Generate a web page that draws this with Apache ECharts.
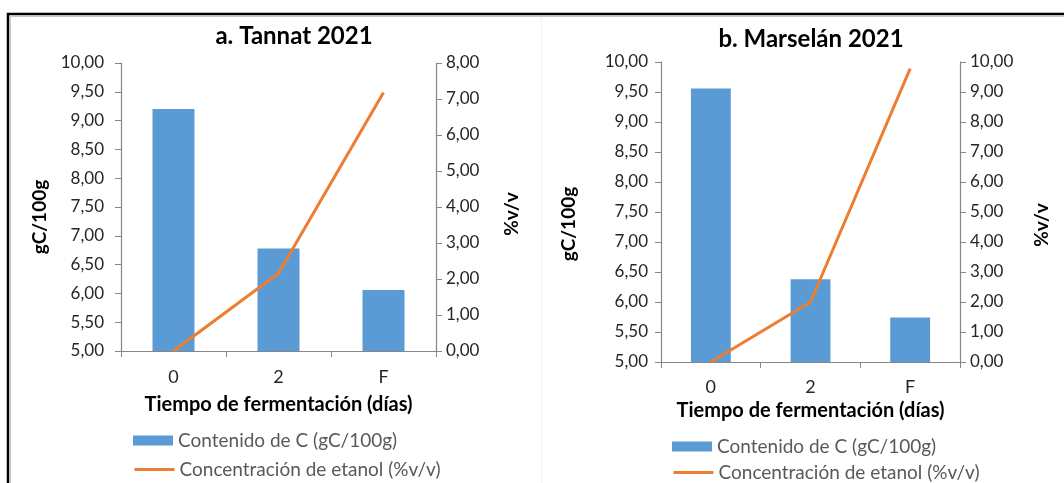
<!DOCTYPE html>
<html>
<head>
<meta charset="utf-8">
<script src="https://cdn.jsdelivr.net/npm/echarts@6/dist/echarts.min.js"></script>
<style>
  html, body { margin: 0; padding: 0; background: #fff; }
  #chart { width: 1064px; height: 483px; }
</style>
</head>
<body>
<div id="chart"></div>
<script>
// Fermentation time categories (days)
const categories = ['0', '2', 'F'];

// a. Tannat 2021
const tannatCarbon = [9.20, 6.78, 6.06];   // gC/100g
const tannatEthanol = [0.00, 2.16, 7.18];  // %v/v

// b. Marselán 2021
const marselanCarbon = [9.56, 6.38, 5.74];   // gC/100g
const marselanEthanol = [0.00, 2.00, 9.78];  // %v/v

const titles = ['a. Tannat 2021', 'b. Marselán 2021'];
const xAxisName = 'Tiempo de fermentación (días)';
const leftAxisName = 'gC/100g';
const rightAxisName = '%v/v';
const barName = 'Contenido de C (gC/100g)';
const lineName = 'Concentración de etanol (%v/v)';

const FONT = 'Lato, "Open Sans", sans-serif';
const BLUE = '#5B9BD5';
const ORANGE = '#ED7D31';
const AXIS = '#868686';
const LABEL = '#262626';

const fmt = v => v.toFixed(2).replace('.', ',');

// Pixel layout of the two panels
const panels = [
  { grid: { left: 121, top: 63, width: 315, height: 288 },
    titleX: 289, titleY: 19, rightMax: 8,
    leftLabelMargin: 17, rightLabelMargin: 10,
    leftNameGap: 72, rightNameGap: 66, leftNameShift: 20, rightNameShift: 14,
    xLabelMargin: 17, xNameGap: 44,
    legendLeft: 133, legendTop1: 431, legendTop2: 460 },
  { grid: { left: 661, top: 62, width: 299, height: 300 },
    titleX: 806, titleY: 22, rightMax: 10,
    leftLabelMargin: 13, rightLabelMargin: 10,
    leftNameGap: 83, rightNameGap: 72, leftNameShift: 24, rightNameShift: 26,
    xLabelMargin: 16, xNameGap: 38,
    legendLeft: 672, legendTop1: 437, legendTop2: 463 }
];
const carbon = [tannatCarbon, marselanCarbon];
const ethanol = [tannatEthanol, marselanEthanol];

const option = {
  backgroundColor: '#fff',
  animation: false,
  title: [], grid: [], xAxis: [], yAxis: [], series: [], legend: [],
  graphic: [
    // outer frame (top and left edges)
    { type: 'polyline', silent: true, z: 100,
      shape: { points: [[8, 483], [8, 14], [1064, 14]] },
      style: { stroke: '#000', lineWidth: 2.5, fill: null } },
    { type: 'polyline', silent: true, z: 99,
      shape: { points: [[10.5, 483], [10.5, 16.5], [1064, 16.5]] },
      style: { stroke: '#c8c8c8', lineWidth: 1, fill: null } },
    { type: 'line', silent: true,
      shape: { x1: 541.5, y1: 16, x2: 541.5, y2: 483 },
      style: { stroke: '#f2f2f2', lineWidth: 1 } }
  ]
};

const nameStyle = shift => ({
  fontFamily: FONT, fontWeight: 'bold', fontSize: 19, color: '#000',
  padding: [0, shift, 0, 0]
});

panels.forEach((p, i) => {
  option.title.push({
    text: titles[i], left: p.titleX, top: p.titleY, textAlign: 'center',
    textStyle: { fontFamily: FONT, fontWeight: 'bold', fontSize: 24, color: '#000' }
  });
  option.grid.push(Object.assign({ containLabel: false }, p.grid));
  option.xAxis.push({
    type: 'category', gridIndex: i, data: categories,
    name: xAxisName, nameLocation: 'middle', nameGap: p.xNameGap,
    nameTextStyle: { fontFamily: FONT, fontWeight: 'bold', fontSize: 20, color: '#000' },
    axisLine: { lineStyle: { color: AXIS, width: 1.2 } },
    axisTick: { show: true, length: 6, lineStyle: { color: AXIS } },
    axisLabel: { margin: p.xLabelMargin, fontFamily: FONT, fontSize: 18, color: LABEL }
  });
  option.yAxis.push({
    type: 'value', gridIndex: i, position: 'left', min: 5, max: 10, interval: 0.5,
    name: leftAxisName, nameLocation: 'middle', nameGap: p.leftNameGap, nameRotate: 90,
    nameTextStyle: nameStyle(p.leftNameShift),
    axisLine: { show: true, lineStyle: { color: AXIS, width: 1.2 } },
    axisTick: { show: true, length: 6, lineStyle: { color: AXIS } },
    axisLabel: { margin: p.leftLabelMargin, fontFamily: FONT, fontSize: 17, color: LABEL, formatter: fmt },
    splitLine: { show: false }
  });
  option.yAxis.push({
    type: 'value', gridIndex: i, position: 'right', min: 0, max: p.rightMax, interval: 1,
    name: rightAxisName, nameLocation: 'middle', nameGap: p.rightNameGap, nameRotate: 90,
    nameTextStyle: nameStyle(p.rightNameShift),
    axisLine: { show: true, lineStyle: { color: AXIS, width: 1.2 } },
    axisTick: { show: true, length: 6, lineStyle: { color: AXIS } },
    axisLabel: { margin: p.rightLabelMargin, fontFamily: FONT, fontSize: 17, color: LABEL, formatter: fmt },
    splitLine: { show: false }
  });
  option.series.push({
    name: barName, type: 'bar', xAxisIndex: i, yAxisIndex: i * 2,
    data: carbon[i], barWidth: '40%', itemStyle: { color: BLUE }
  });
  option.series.push({
    name: lineName, type: 'line', xAxisIndex: i, yAxisIndex: i * 2 + 1,
    data: ethanol[i], symbol: 'none', lineStyle: { color: ORANGE, width: 3 },
    itemStyle: { color: ORANGE }
  });
  [[barName, p.legendTop1, 'rect'], [lineName, p.legendTop2, undefined]].forEach(([nm, top, icon]) => {
    const lg = {
      data: [icon ? { name: nm, icon: icon } : { name: nm }],
      left: p.legendLeft, top: top, padding: 0,
      itemWidth: 40, itemHeight: 10, itemGap: 0,
      selectedMode: false,
      textStyle: { fontFamily: FONT, fontSize: 19, color: '#595959' }
    };
    if (!icon) {
      lg.itemStyle = { opacity: 0 };
      lg.lineStyle = { width: 3, color: ORANGE };
    }
    option.legend.push(lg);
  });
});

const chart = echarts.init(document.getElementById('chart'), null, { renderer: 'canvas' });
chart.setOption(option);
</script>
</body>
</html>
